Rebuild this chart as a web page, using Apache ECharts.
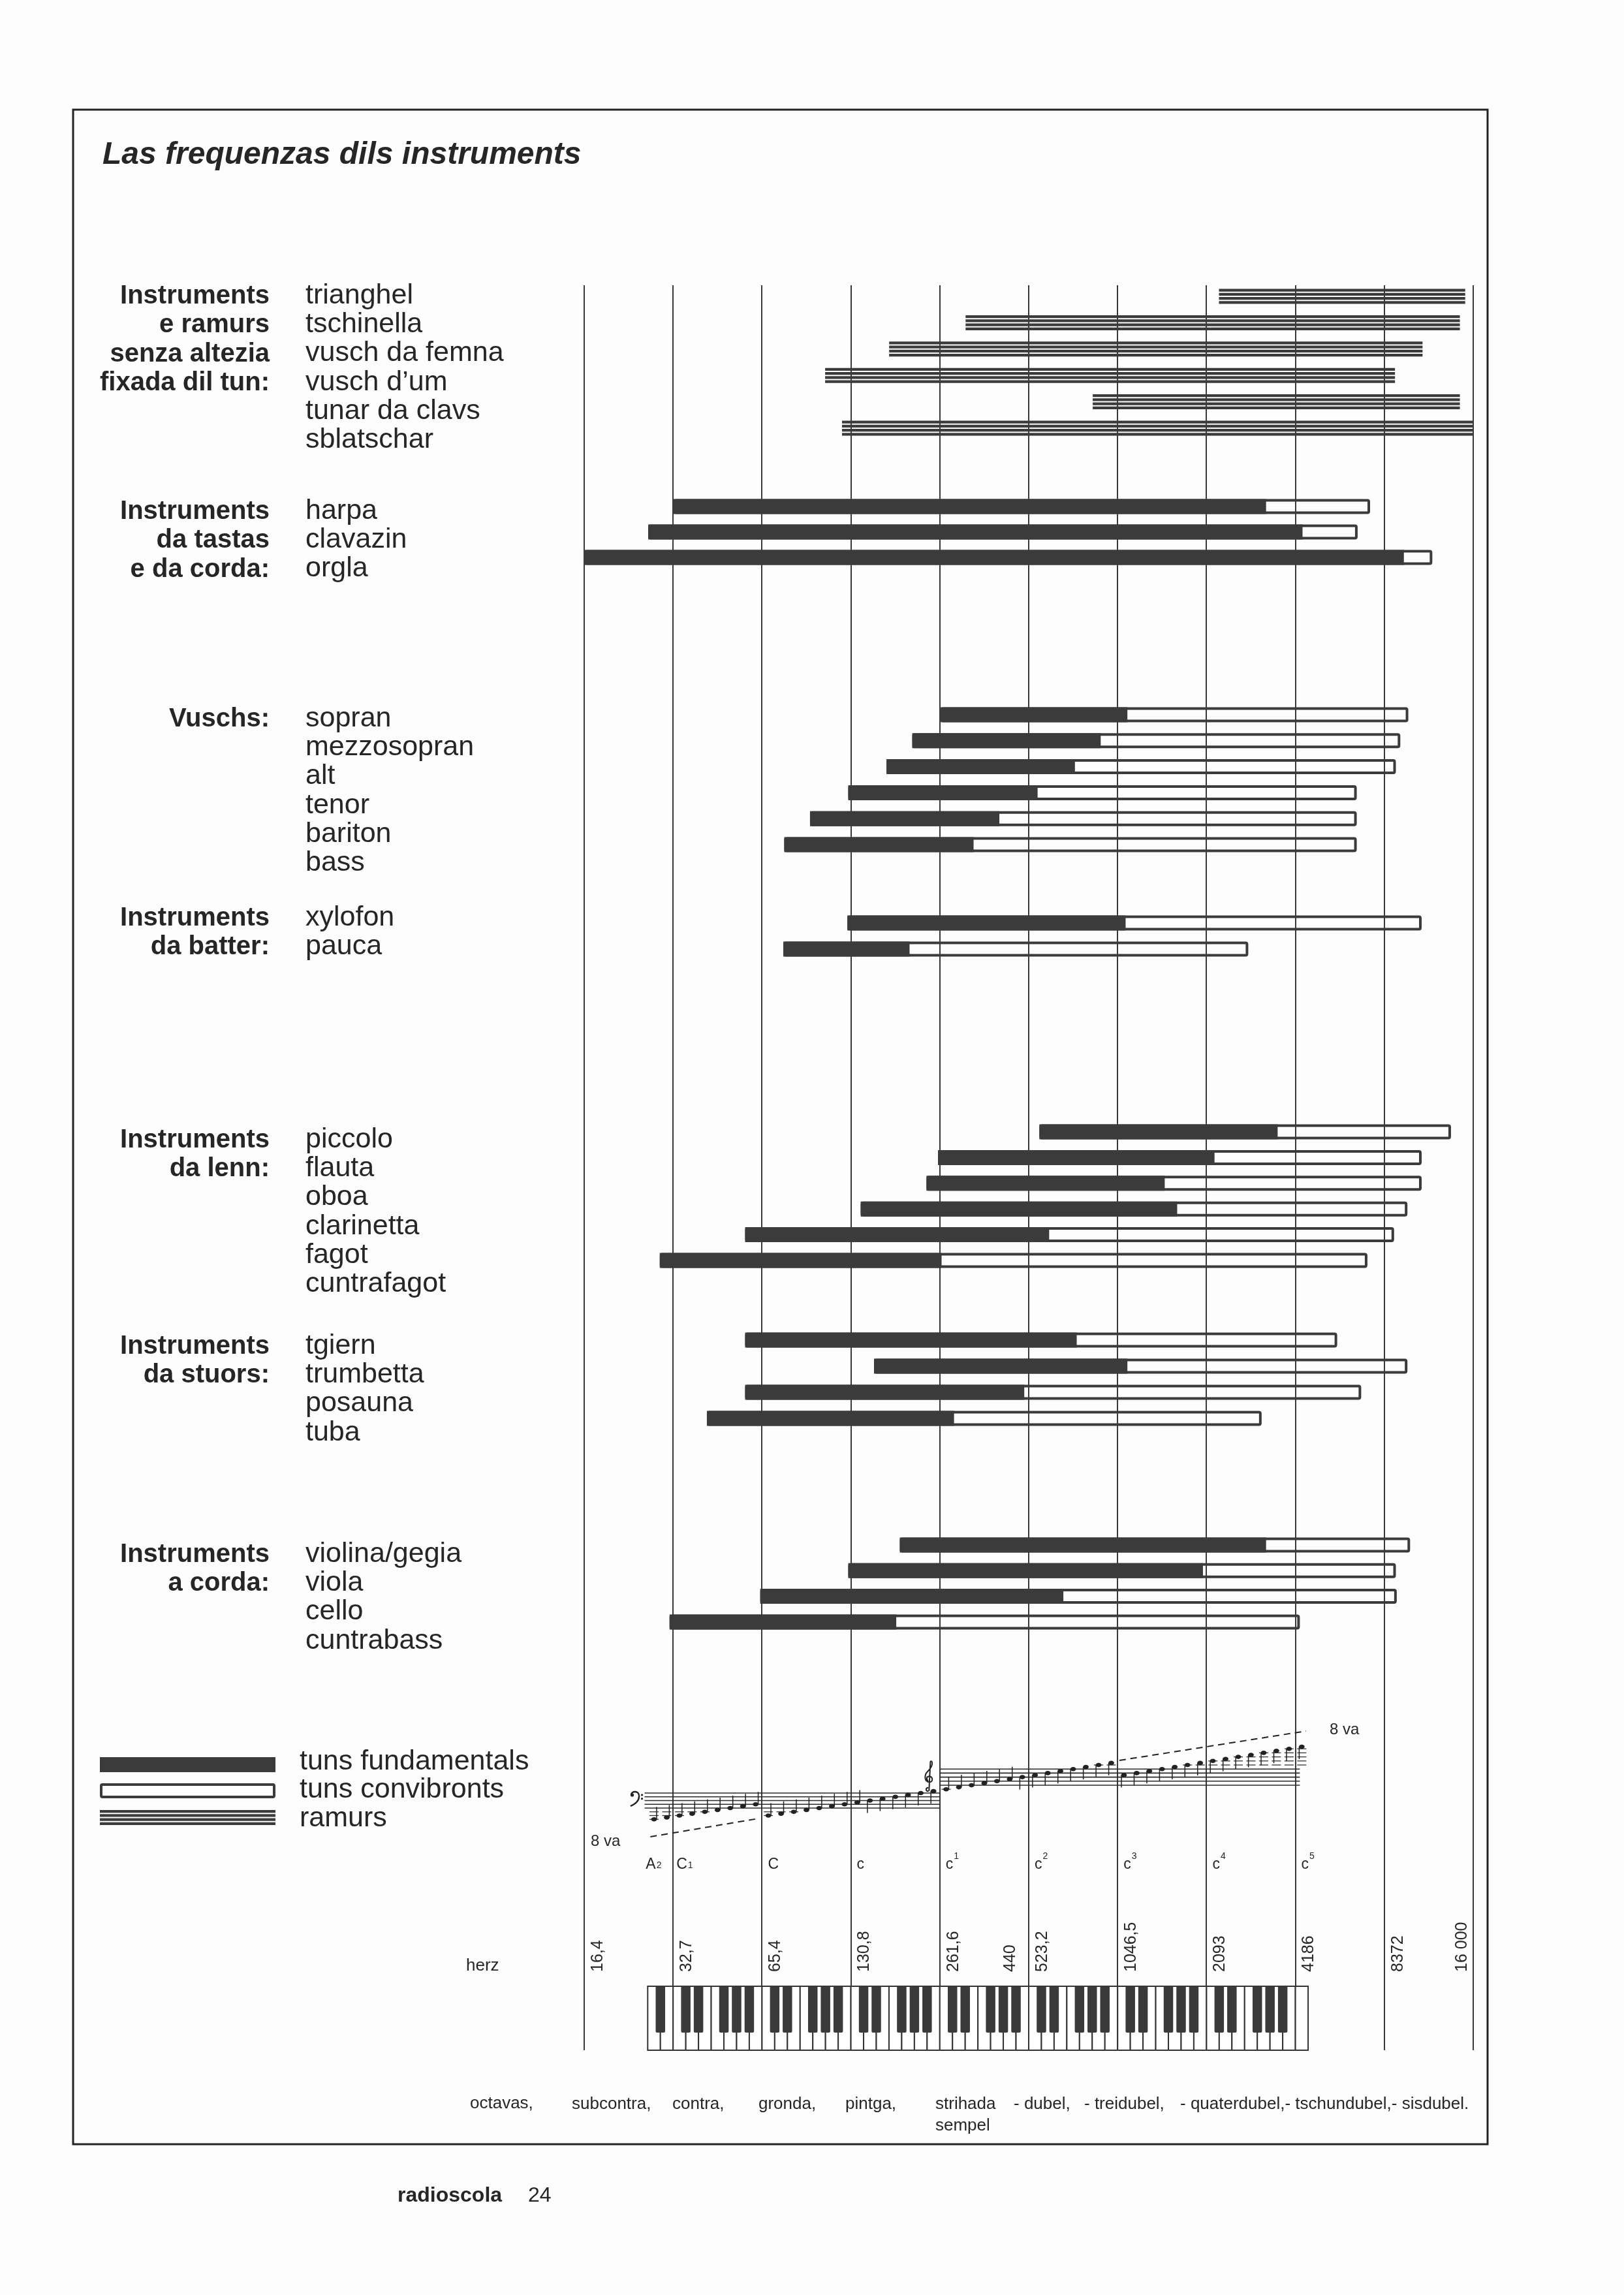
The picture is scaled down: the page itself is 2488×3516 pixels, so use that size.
<!DOCTYPE html>
<html>
<head>
<meta charset="utf-8">
<title>Las frequenzas dils instruments</title>
<script src="https://cdn.jsdelivr.net/npm/echarts@6/dist/echarts.min.js"></script>
<style>
html,body{margin:0;padding:0;background:#fdfdfd;}
#chart{width:2488px;height:3516px;}
</style>
</head>
<body>
<div id="chart"></div>
<script>
// ---------------- DATA (x values in octaves above 16,4 Hz: 0 = 16,4 Hz ... 10 = 16 000 Hz) ----------------
const ramursHeading = ['Instruments', 'e ramurs', 'senza altezia', 'fixada dil tun:'];
const ramursNames = ['trianghel', 'tschinella', 'vusch da femna', 'vusch d\u2019um', 'tunar da clavs', 'sblatschar'];
const ramursFrom = [7.14, 4.29, 3.43, 2.71, 5.72, 2.90];
const ramursTo   = [9.91, 9.85, 9.43, 9.12, 9.85, 10.0];

const tastasHeading = ['Instruments', 'da tastas', 'e da corda:'];
const tastasNames = ['harpa', 'clavazin', 'orgla'];
const tastasFrom = [1.00, 0.72, 0.00];
const tastasFund = [7.67, 8.08, 9.22];
const tastasTo   = [8.84, 8.70, 9.54];

const vuschsHeading = ['Vuschs:'];
const vuschsNames = ['sopran', 'mezzosopran', 'alt', 'tenor', 'bariton', 'bass'];
const vuschsFrom = [4.01, 3.69, 3.40, 2.97, 2.54, 2.25];
const vuschsFund = [6.11, 5.81, 5.52, 5.10, 4.67, 4.38];
const vuschsTo   = [9.27, 9.18, 9.13, 8.69, 8.69, 8.69];

const batterHeading = ['Instruments', 'da batter:'];
const batterNames = ['xylofon', 'pauca'];
const batterFrom = [2.96, 2.24];
const batterFund = [6.09, 3.66];
const batterTo   = [9.42, 7.47];

const lennHeading = ['Instruments', 'da lenn:'];
const lennNames = ['piccolo', 'flauta', 'oboa', 'clarinetta', 'fagot', 'cuntrafagot'];
const lennFrom = [5.12, 3.98, 3.85, 3.11, 1.81, 0.85];
const lennFund = [7.80, 7.09, 6.53, 6.67, 5.23, 4.02];
const lennTo   = [9.75, 9.42, 9.42, 9.26, 9.11, 8.81];

const stuorsHeading = ['Instruments', 'da stuors:'];
const stuorsNames = ['tgiern', 'trumbetta', 'posauna', 'tuba'];
const stuorsFrom = [1.81, 3.26, 1.81, 1.38];
const stuorsFund = [5.54, 6.11, 4.95, 4.16];
const stuorsTo   = [8.47, 9.26, 8.74, 7.62];

const cordaHeading = ['Instruments', 'a corda:'];
const cordaNames = ['violina/gegia', 'viola', 'cello', 'cuntrabass'];
const cordaFrom = [3.55, 2.97, 1.98, 0.96];
const cordaFund = [7.67, 6.96, 5.39, 3.51];
const cordaTo   = [9.29, 9.13, 9.14, 8.05];

const octaveTicks = [0, 1, 2, 3, 4, 5, 6, 7, 8, 9, 10];
const hzTickLabels = ['16,4', '32,7', '65,4', '130,8', '261,6', '523,2', '1046,5', '2093', '4186', '8372', '16 000'];
const extraHzLabel = '440';
const extraHzOct = 4.75;

const noteLetters = ['A', 'C', 'C', 'c', 'c', 'c', 'c', 'c', 'c'];
const noteMarks   = ['2', '1', '', '', '1', '2', '3', '4', '5'];
const noteMarkSup = [false, false, false, false, true, true, true, true, true];
const noteOct     = [1 - 2 / 7, 1, 2, 3, 4, 5, 6, 7, 8];

const octaveWords = ['subcontra,', 'contra,', 'gronda,', 'pintga,', 'strihada', '- dubel,', '- treidubel,', '- quaterdubel,- tschundubel,- sisdubel.'];
const legendWords = ['tuns fundamentals', 'tuns convibronts', 'ramurs'];

// written staff positions of the scale A2 ... c5 (one note per white key; 0 = lowest staff line)
const noteSteps = [
  -6, -5,
  -4, -3, -2, -1, 0, 1, 2,
  -4, -3, -2, -1, 0, 1, 2,
   3, 4, 5, 6, 7, 8, 9,
  -2, -1, 0, 1, 2, 3, 4,
   5, 6, 7, 8, 9, 10, 11,
   5, 6, 7, 8, 9, 10, 11,
  12, 13, 14, 15, 16, 17, 18,
  19
];
const BASS_NOTES = 23; // first 23 notes on the bass staff

// ---------------- LAYOUT / STYLE ----------------
const W = 2488, H = 3516;
const INK = '#262626';
const BAR = '#3b3b3b';
const LINE = '#3a3a3a';
const FONT = '"Liberation Sans", Arial, Helvetica, sans-serif';
const PLOT_LEFT = 895, PLOT_RIGHT = 2257;
const LINES_TOP = 437, LINES_BOTTOM = 3141;
const BAR_H = 23;
const TEXT_STEP = 44.3;
const NAME_X = 468, HEAD_X = 413;
const TEXT_SHIFT = 4;

const groups = [
  {heading: ramursHeading, names: ramursNames, from: ramursFrom, fund: null, to: ramursTo, row0: 454, step: 40.4, base: 464},
  {heading: tastasHeading, names: tastasNames, from: tastasFrom, fund: tastasFund, to: tastasTo, row0: 776, step: 39.0, base: 794},
  {heading: vuschsHeading, names: vuschsNames, from: vuschsFrom, fund: vuschsFund, to: vuschsTo, row0: 1095, step: 39.8, base: 1112},
  {heading: batterHeading, names: batterNames, from: batterFrom, fund: batterFund, to: batterTo, row0: 1414, step: 40.0, base: 1417},
  {heading: lennHeading, names: lennNames, from: lennFrom, fund: lennFund, to: lennTo, row0: 1734, step: 39.4, base: 1757},
  {heading: stuorsHeading, names: stuorsNames, from: stuorsFrom, fund: stuorsFund, to: stuorsTo, row0: 2053, step: 40.0, base: 2073},
  {heading: cordaHeading, names: cordaNames, from: cordaFrom, fund: cordaFund, to: cordaTo, row0: 2367, step: 39.3, base: 2392}
];

const KEY_FIRST = 1 - 2 / 7;      // left edge of the A2 key, in octaves
const WHITE_KEYS = 52;
const BLACK_PATTERN = [true, false, true, true, false, true, true]; // starting at A
const KB_TOP = 3043, KB_BOTTOM = 3141, KB_BLACK_BOTTOM = 3114;
const BASS_BOTTOM = 2770, BASS_GAP = 5.75;
const TREBLE_BOTTOM = 2735, TREBLE_GAP = 6.2;

// ---------------- helpers ----------------
function txt(x, base, text, fs, o) {
  o = o || {};
  return {
    type: 'text', x: x, y: base - 0.35 * fs + TEXT_SHIFT, silent: true, z: 10,
    style: {
      text: text, fontSize: fs, fontFamily: FONT,
      fontWeight: o.weight || 'normal', fontStyle: o.italic ? 'italic' : 'normal',
      fill: o.fill || INK, align: o.align || 'left', verticalAlign: 'middle',
      textAlign: o.align || 'left', textVerticalAlign: 'middle'
    }
  };
}
function stripes(x0, x1, yc, h) {
  const n = 4, gap = 2.0, sh = (h - gap * (n - 1)) / n, y0 = yc - h / 2, out = [];
  for (let k = 0; k < n; k++) {
    out.push({type: 'rect', shape: {x: x0, y: y0 + k * (sh + gap), width: x1 - x0, height: sh}, style: {fill: BAR}});
  }
  return out;
}
function rangeShapes(x0, x1, x2, yc, h) {
  const y0 = yc - h / 2;
  return [
    {type: 'rect', shape: {x: x0 + 2, y: y0 + 2, width: x2 - x0 - 4, height: h - 4, r: 2}, style: {fill: 'none', stroke: BAR, lineWidth: 4}},
    {type: 'rect', shape: {x: x0, y: y0, width: x1 - x0, height: h}, style: {fill: BAR}}
  ];
}

// ---------------- axes, grids, series ----------------
const grid = [], xAxis = [], yAxis = [], series = [];
grid.push({left: PLOT_LEFT, right: W - PLOT_RIGHT, top: LINES_TOP, bottom: H - LINES_BOTTOM, containLabel: false});
xAxis.push({gridIndex: 0, type: 'value', min: 0, max: 10, interval: 1, show: false});
yAxis.push({gridIndex: 0, type: 'value', min: 0, max: 1, show: false});

// vertical octave lines
series.push({
  type: 'custom', xAxisIndex: 0, yAxisIndex: 0, silent: true, z: 1,
  data: octaveTicks.map(v => [v]),
  renderItem: (p, api) => {
    const x = Math.round(api.coord([api.value(0), 0])[0]);
    return {type: 'line', shape: {x1: x, y1: LINES_TOP, x2: x, y2: LINES_BOTTOM}, style: {stroke: LINE, lineWidth: 2}};
  }
});

groups.forEach((g, gi) => {
  const idx = gi + 1;
  grid.push({left: PLOT_LEFT, right: W - PLOT_RIGHT, top: g.row0 - g.step / 2, height: g.names.length * g.step, containLabel: false});
  xAxis.push({gridIndex: idx, type: 'value', min: 0, max: 10, show: false});
  yAxis.push({gridIndex: idx, type: 'category', data: g.names, inverse: true, show: false});
  if (!g.fund) {
    series.push({
      type: 'custom', name: 'ramurs', xAxisIndex: idx, yAxisIndex: idx, silent: true, z: 3,
      data: g.names.map((n, i) => [i, g.from[i], g.to[i]]),
      renderItem: (p, api) => {
        const i = api.value(0);
        const a = api.coord([api.value(1), i]), c = api.coord([api.value(2), i]);
        return {type: 'group', children: stripes(a[0], c[0], a[1], BAR_H)};
      }
    });
  } else {
    series.push({
      type: 'custom', name: 'tuns', xAxisIndex: idx, yAxisIndex: idx, silent: true, z: 3,
      data: g.names.map((n, i) => [i, g.from[i], g.fund[i], g.to[i]]),
      renderItem: (p, api) => {
        const i = api.value(0);
        const a = api.coord([api.value(1), i]), b = api.coord([api.value(2), i]), c = api.coord([api.value(3), i]);
        return {type: 'group', children: rangeShapes(a[0], b[0], c[0], a[1], BAR_H)};
      }
    });
  }
});

// keyboard
const whiteKeys = [], blackKeys = [];
for (let k = 0; k < WHITE_KEYS; k++) {
  whiteKeys.push([KEY_FIRST + k / 7, KEY_FIRST + (k + 1) / 7]);
  if (k < WHITE_KEYS - 1 && BLACK_PATTERN[k % 7]) blackKeys.push([KEY_FIRST + (k + 1) / 7]);
}
series.push({
  type: 'custom', xAxisIndex: 0, yAxisIndex: 0, silent: true, z: 4,
  data: whiteKeys,
  renderItem: (p, api) => {
    const x0 = api.coord([api.value(0), 0])[0], x1 = api.coord([api.value(1), 0])[0];
    return {type: 'rect', shape: {x: x0, y: KB_TOP, width: x1 - x0, height: KB_BOTTOM - KB_TOP}, style: {fill: '#ffffff', stroke: '#333', lineWidth: 2}};
  }
});
series.push({
  type: 'custom', xAxisIndex: 0, yAxisIndex: 0, silent: true, z: 5,
  data: blackKeys,
  renderItem: (p, api) => {
    const x = api.coord([api.value(0), 0])[0], w = 14.5;
    return {type: 'rect', shape: {x: x - w / 2, y: KB_TOP, width: w, height: KB_BLACK_BOTTOM - KB_TOP, r: [0, 0, 2, 2]}, style: {fill: '#3a3a3a'}};
  }
});

// staves
const staves = [[KEY_FIRST - 0.035, 4, 0], [4, 8.05, 1]];
series.push({
  type: 'custom', xAxisIndex: 0, yAxisIndex: 0, silent: true, z: 4,
  data: staves,
  renderItem: (p, api) => {
    const x0 = api.coord([api.value(0), 0])[0], x1 = api.coord([api.value(1), 0])[0];
    const treble = api.value(2) === 1;
    const bottom = treble ? TREBLE_BOTTOM : BASS_BOTTOM, gap = treble ? TREBLE_GAP : BASS_GAP;
    const ch = [];
    for (let k = 0; k < 5; k++) {
      const y = bottom - k * gap;
      ch.push({type: 'line', shape: {x1: x0, y1: y, x2: x1, y2: y}, style: {stroke: '#2a2a2a', lineWidth: 1.6}});
    }
    if (!treble) {
      ch.push({type: 'path', shape: {pathData: 'M3 7 C3 1 15 0 15 9 C15 17 9 21 2 24', x: x0 - 22, y: bottom - 4 * gap - 2, width: 14, height: 22}, style: {fill: 'none', stroke: '#222', lineWidth: 2.4}});
      ch.push({type: 'circle', shape: {cx: x0 - 19, cy: bottom - 4 * gap + 3, r: 2.6}, style: {fill: '#222'}});
      ch.push({type: 'circle', shape: {cx: x0 - 4, cy: bottom - 3.5 * gap, r: 1.6}, style: {fill: '#222'}});
      ch.push({type: 'circle', shape: {cx: x0 - 4, cy: bottom - 2.5 * gap, r: 1.6}, style: {fill: '#222'}});
    } else {
      ch.push({type: 'path', shape: {pathData: 'M6 44 C2 44 2 39 6 39 M7 44 L9 2 C12 -1 14 8 5 16 C0 21 0 31 8 31 C13 31 13 23 7 23 C3 23 3 28 6 29', x: x0 - 24, y: bottom - 4 * gap - 12, width: 14, height: 46}, style: {fill: 'none', stroke: '#222', lineWidth: 2}});
    }
    return {type: 'group', children: ch};
  }
});

// notes
series.push({
  type: 'custom', xAxisIndex: 0, yAxisIndex: 0, silent: true, z: 6,
  data: noteSteps.map((s, k) => [KEY_FIRST + (k + 0.5) / 7, s, k < BASS_NOTES ? 0 : 1]),
  renderItem: (p, api) => {
    const x = api.coord([api.value(0), 0])[0];
    const s = api.value(1), treble = api.value(2) === 1;
    const bottom = treble ? TREBLE_BOTTOM : BASS_BOTTOM, half = (treble ? TREBLE_GAP : BASS_GAP) / 2;
    const y = bottom - s * half;
    const ch = [];
    const ledger = [];
    if (s <= -2) for (let l = -2; l >= s; l -= 2) ledger.push(l);
    if (treble && s >= 10) for (let l = 10; l <= s; l += 2) ledger.push(l);
    ledger.forEach(l => {
      const ly = bottom - l * half;
      ch.push({type: 'line', shape: {x1: x - 7, y1: ly, x2: x + 7, y2: ly}, style: {stroke: '#333', lineWidth: 1.3}});
    });
    ch.push({type: 'ellipse', shape: {cx: x, cy: y, rx: 4.4, ry: 3.3}, style: {fill: '#222'}});
    if (s < 4) ch.push({type: 'line', shape: {x1: x + 3.9, y1: y, x2: x + 3.9, y2: y - 19}, style: {stroke: '#222', lineWidth: 1.5}});
    else ch.push({type: 'line', shape: {x1: x - 3.9, y1: y, x2: x - 3.9, y2: y + 19}, style: {stroke: '#222', lineWidth: 1.5}});
    return {type: 'group', children: ch};
  }
});

// 8va dashed lines
const ottavaLines = [[0.744, 2814, 1.94, 2786.5], [6.02, 2697, 8.12, 2652]];
series.push({
  type: 'custom', xAxisIndex: 0, yAxisIndex: 0, silent: true, z: 6,
  data: ottavaLines,
  renderItem: (p, api) => {
    const xa = api.coord([api.value(0), 0])[0], xb = api.coord([api.value(2), 0])[0];
    return {type: 'line', shape: {x1: xa, y1: api.value(1), x2: xb, y2: api.value(3)}, style: {stroke: '#222', lineWidth: 2, lineDash: [10, 7]}};
  }
});

// Hz labels (rotated)
const hzItems = octaveTicks.map((v, i) => [v, i]).concat([[extraHzOct, -1]]);
series.push({
  type: 'custom', xAxisIndex: 0, yAxisIndex: 0, silent: true, z: 6,
  data: hzItems,
  renderItem: (p, api) => {
    const v = api.value(0), i = api.value(1);
    const x = api.coord([v, 0])[0];
    const label = i < 0 ? extraHzLabel : hzTickLabels[i];
    const dx = i < 0 ? 6 : (i === 10 ? -17 : 21);
    return {type: 'text', x: x + dx, y: 3021, rotation: Math.PI / 2,
      style: {text: label, fontSize: 25, fontFamily: FONT, fill: INK, align: 'left', verticalAlign: 'middle', textAlign: 'left', textVerticalAlign: 'middle'}};
  }
});

// note names A2 C1 C c c1 ... c5
series.push({
  type: 'custom', xAxisIndex: 0, yAxisIndex: 0, silent: true, z: 6,
  data: noteOct.map((v, i) => [v, i]),
  renderItem: (p, api) => {
    const i = api.value(1);
    const x = api.coord([api.value(0), 0])[0] + (i === 0 ? -3 : (i === 1 ? 5 : 9));
    const base = 2861, fs = 23;
    const letter = noteLetters[i];
    const lw = letter === 'c' ? 11.5 : (letter === 'A' ? 15.5 : 16.5);
    const ch = [{type: 'text', x: x, y: base - 0.35 * fs + TEXT_SHIFT, style: {text: letter, fontSize: fs, fontFamily: FONT, fill: INK, align: 'left', verticalAlign: 'middle', textAlign: 'left', textVerticalAlign: 'middle'}}];
    if (noteMarks[i]) {
      const sy = noteMarkSup[i] ? base - 17 : base - 3;
      ch.push({type: 'text', x: x + lw + 1, y: sy, style: {text: noteMarks[i], fontSize: 14, fontFamily: FONT, fill: INK, align: 'left', verticalAlign: 'middle', textAlign: 'left', textVerticalAlign: 'middle'}});
    }
    return {type: 'group', children: ch};
  }
});

// ---------------- graphic texts ----------------
const graphic = [];
graphic.push({type: 'rect', silent: true, z: 0, shape: {x: 112, y: 168, width: 2167, height: 3117}, style: {fill: 'none', stroke: '#222', lineWidth: 3}});
graphic.push(txt(157, 251, 'Las frequenzas dils instruments', 48, {weight: 'bold', italic: true}));
groups.forEach(g => {
  g.heading.forEach((h, i) => graphic.push(txt(HEAD_X, g.base + i * TEXT_STEP, h, 40, {weight: 'bold', align: 'right'})));
  g.names.forEach((n, i) => graphic.push(txt(NAME_X, g.base + i * TEXT_STEP, n, 43)));
});
// legend
const LEG_X0 = 153, LEG_X1 = 422;
graphic.push({type: 'group', silent: true, children: [
  {type: 'rect', shape: {x: LEG_X0, y: 2692, width: LEG_X1 - LEG_X0, height: 23}, style: {fill: BAR}},
  {type: 'rect', shape: {x: LEG_X0 + 2, y: 2734, width: LEG_X1 - LEG_X0 - 4, height: 19, r: 2}, style: {fill: 'none', stroke: BAR, lineWidth: 4}}
].concat(stripes(LEG_X0, LEG_X1, 2784.5, 23))});
legendWords.forEach((w, i) => graphic.push(txt(459, 2710 + i * 43.5, w, 43)));
graphic.push(txt(714, 3017, 'herz', 26));
graphic.push(txt(720, 3228, 'octavas,', 26));
const octaveWordX = [876, 1030, 1162, 1295, 1433, 1553, 1661, 1808];
octaveWords.forEach((w, i) => graphic.push(txt(octaveWordX[i], 3229, w, 26)));
graphic.push(txt(1433, 3262, 'sempel', 26));
graphic.push(txt(905, 2826, '8 va', 24));
graphic.push(txt(2037, 2655, '8 va', 24));
graphic.push(txt(609, 3371, 'radioscola', 32, {weight: 'bold'}));
graphic.push(txt(809, 3371, '24', 32));

const chart = echarts.init(document.getElementById('chart'), null, {renderer: 'canvas', width: W, height: H});
chart.setOption({
  backgroundColor: '#fdfdfd',
  animation: false,
  grid: grid,
  xAxis: xAxis,
  yAxis: yAxis,
  series: series,
  graphic: graphic
});
</script>
</body>
</html>
